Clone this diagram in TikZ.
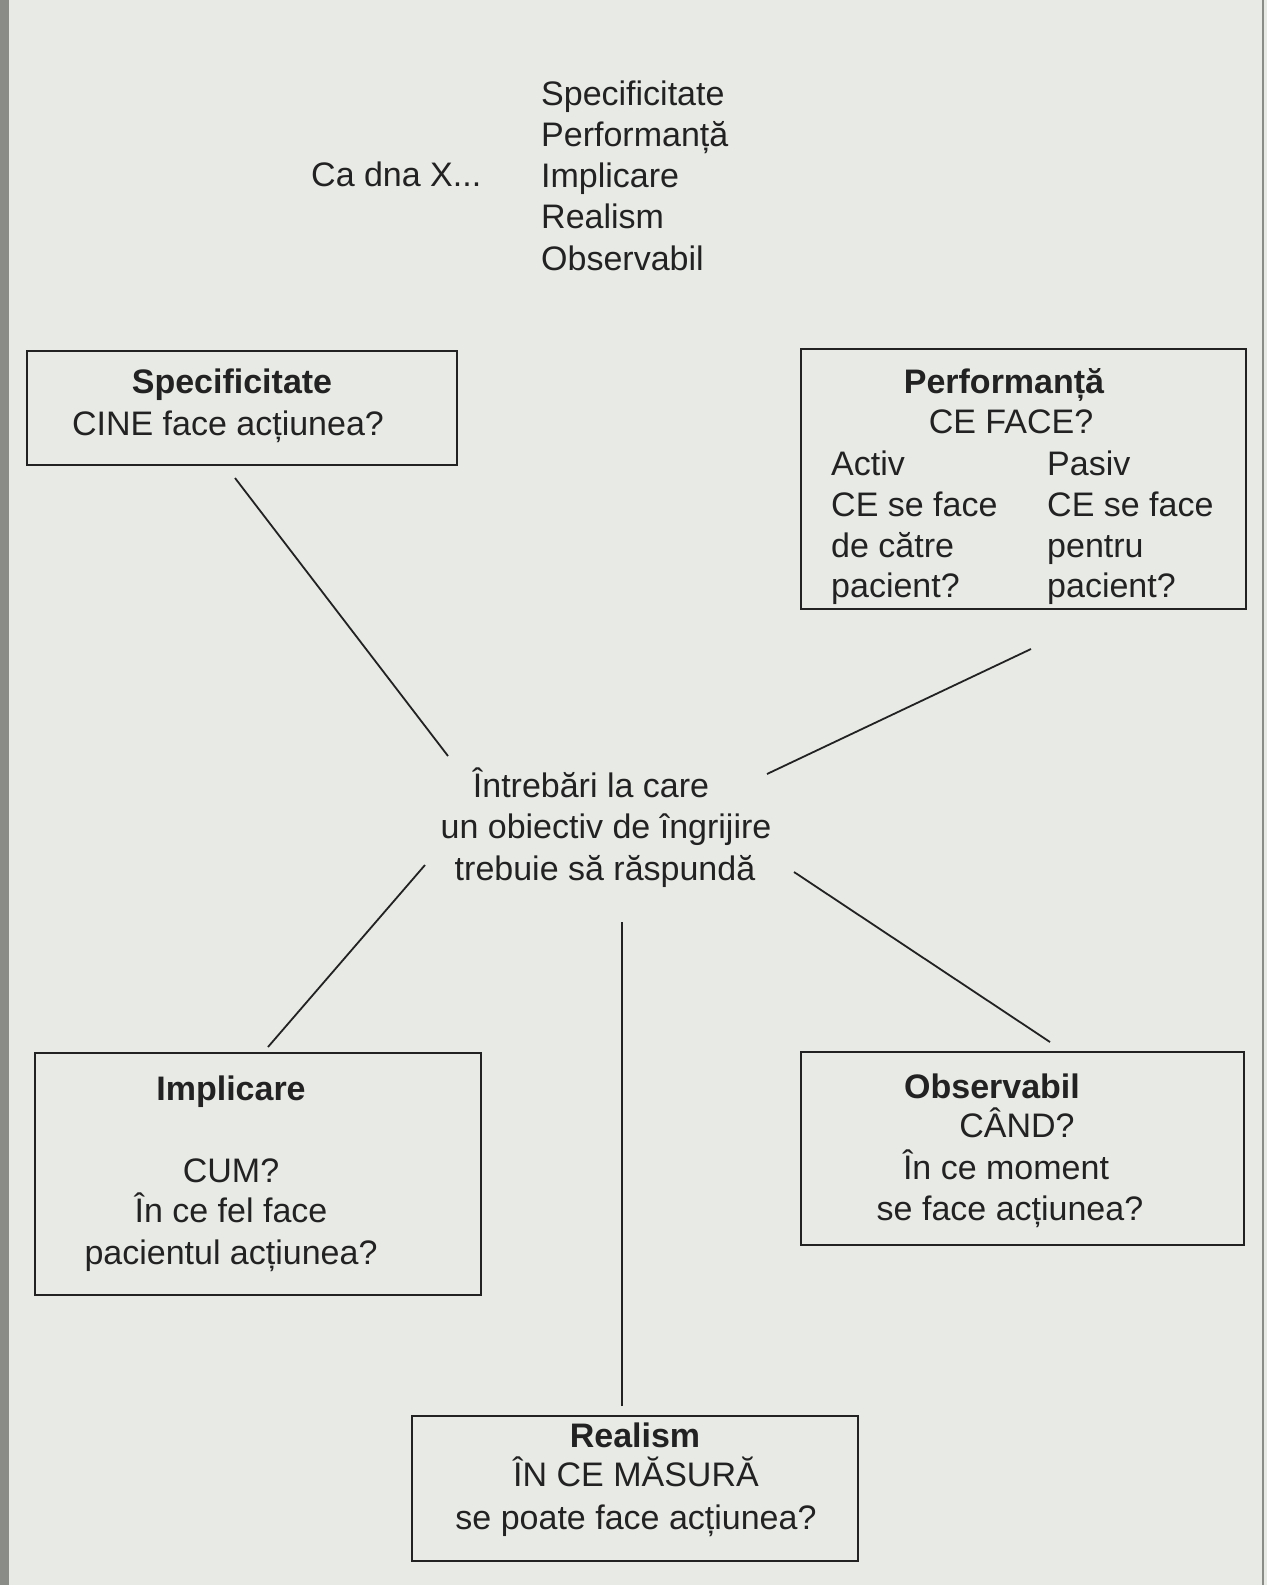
\documentclass[tikz,border=0pt]{standalone}
\usepackage{fontspec}
\setmainfont{Liberation Sans}
\definecolor{paper}{HTML}{E7EAE5}
\definecolor{ink}{HTML}{222222}
\definecolor{edge}{HTML}{8A8C88}
\tikzset{
  box/.style={draw=ink, line width=2.2pt, rectangle, inner sep=0pt},
  txt/.style={anchor=base, inner sep=0pt, text=ink, font=\fontsize{34}{41}\selectfont},
  txtw/.style={txt, anchor=base west},
  bold/.style={txt, font=\fontsize{34}{41}\selectfont\bfseries},
  link/.style={draw=ink, line width=1.8pt},
}
\begin{document}
\begin{tikzpicture}[x=1pt,y=-1pt]
\useasboundingbox (0,0) rectangle (1267,1585);
\fill[paper] (0,0) rectangle (1267,1585);
\fill[edge] (0,0) rectangle (9,1585);
\draw[edge, line width=1.5pt] (1263,0) -- (1263,1585);

% top list
\node[txtw] (cadna) at (311,186) {Ca dna X...};
\node[txtw] (c1) at (541,105) {Specificitate};
\node[txtw] (c2) at (541,146) {Performanță};
\node[txtw] (c3) at (541,187) {Implicare};
\node[txtw] (c4) at (541,228) {Realism};
\node[txtw] (c5) at (541,270) {Observabil};

% boxes
\node[box, minimum width=430pt, minimum height=114pt] (spec) at (242,408) {};
\node[box, minimum width=445pt, minimum height=260pt] (perf) at (1023.5,479) {};
\node[box, minimum width=446pt, minimum height=242pt] (impl) at (258,1174) {};
\node[box, minimum width=443pt, minimum height=193pt] (obs) at (1022.5,1148.5) {};
\node[box, minimum width=446pt, minimum height=145pt] (real) at (635,1488.5) {};

% Specificitate
\node[bold] (specT) at (232,393) {Specificitate};
\node[txt] (specA) at (228,435) {CINE face acțiunea?};

% Performanta
\node[bold] (perfT) at (1004,393) {Performanță};
\node[txt] (perfA) at (1011,433) {CE FACE?};
\node[txtw] (pl1) at (831,475) {Activ};
\node[txtw] (pl2) at (831,516) {CE se face};
\node[txtw] (pl3) at (831,557) {de către};
\node[txtw] (pl4) at (831,597) {pacient?};
\node[txtw] (pr1) at (1047,475) {Pasiv};
\node[txtw] (pr2) at (1047,516) {CE se face};
\node[txtw] (pr3) at (1047,557) {pentru};
\node[txtw] (pr4) at (1047,597) {pacient?};

% Implicare
\node[bold] (implT) at (231,1100) {Implicare};
\node[txt] (implA) at (231,1182) {CUM?};
\node[txt] (implB) at (231,1222) {În ce fel face};
\node[txt] (implC) at (231,1264) {pacientul acțiunea?};

% Observabil
\node[bold] (obsT) at (992,1098) {Observabil};
\node[txt] (obsA) at (1017,1137) {CÂND?};
\node[txt] (obsB) at (1006,1179) {În ce moment};
\node[txt] (obsC) at (1010,1220) {se face acțiunea?};

% Realism
\node[bold] (realT) at (635,1447) {Realism};
\node[txt] (realA) at (636,1486) {ÎN CE MĂSURĂ};
\node[txt] (realB) at (636,1529) {se poate face acțiunea?};

% centre
\node[txt] (q1) at (591,797) {Întrebări la care};
\node[txt] (q2) at (606,838) {un obiectiv de îngrijire};
\node[txt] (q3) at (605,880) {trebuie să răspundă};

% connector ends
\coordinate (a1) at (235,478);  \coordinate (b1) at (448,756);
\coordinate (a2) at (1031,649); \coordinate (b2) at (767,774);
\coordinate (a3) at (268,1047); \coordinate (b3) at (425,865);
\coordinate (a4) at (1050,1042);\coordinate (b4) at (794,872);
\coordinate (a5) at (622,1406); \coordinate (b5) at (622,922);

\draw[link] (a1) -- (b1);
\draw[link] (a2) -- (b2);
\draw[link] (a3) -- (b3);
\draw[link] (a4) -- (b4);
\draw[link] (a5) -- (b5);
\end{tikzpicture}
\end{document}
